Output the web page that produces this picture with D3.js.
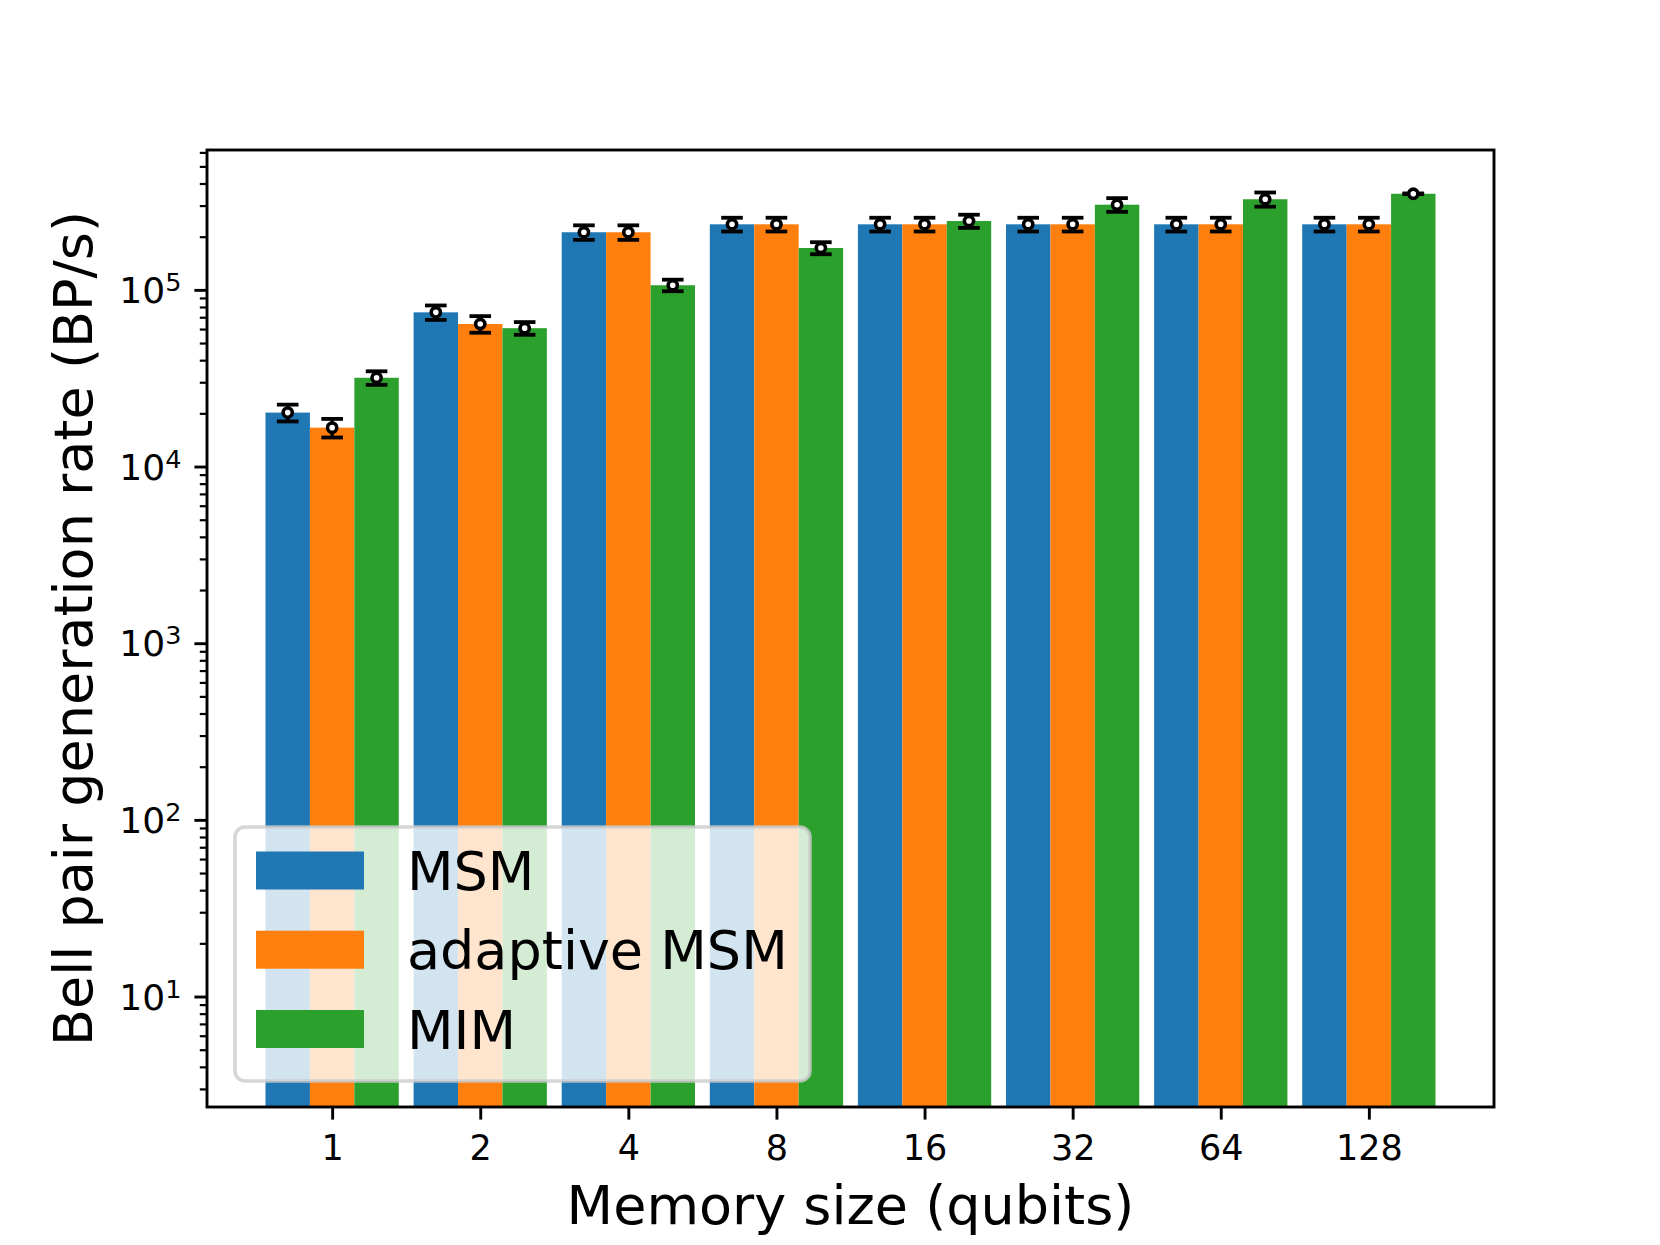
<!DOCTYPE html>
<html>
<head>
<meta charset="utf-8">
<script src="https://cdn.jsdelivr.net/npm/d3@7"></script>
<style>
  html, body { margin: 0; padding: 0; background: #fff; }
  svg { display: block; font-family: "DejaVu Sans", sans-serif; }
</style>
</head>
<body>
<svg id="chart" width="1660" height="1245"></svg>
<script>
// ---- data ----
const sizes = ["1", "2", "4", "8", "16", "32", "64", "128"];
const seriesNames = ["MSM", "adaptive MSM", "MIM"];
const msm = [20200, 74600, 211900, 235000, 235000, 235000, 235000, 235000];
const msmErr = [2200, 7000, 20000, 21000, 21000, 21000, 21000, 21000];
const adaptiveMsm = [16600, 64100, 211900, 235000, 235000, 235000, 235000, 235000];
const adaptiveMsmErr = [2000, 6900, 20000, 21000, 21000, 21000, 21000, 21000];
const mim = [31800, 60700, 106200, 172600, 245300, 303500, 325800, 350000];
const mimErr = [2800, 5000, 8000, 13500, 21000, 27000, 30000, 1500];
const yMajorTicks = [10, 100, 1000, 10000, 100000];
const yTickExponents = ["1", "2", "3", "4", "5"];
const colors = ["#1f77b4", "#ff7f0e", "#2ca02c"];

const series = [
  { name: seriesNames[0], values: msm, errs: msmErr, color: colors[0] },
  { name: seriesNames[1], values: adaptiveMsm, errs: adaptiveMsmErr, color: colors[1] },
  { name: seriesNames[2], values: mim, errs: mimErr, color: colors[2] }
];

// ---- layout ----
const L = 207, R = 1494, T = 150, B = 1107;
const s = 3.6; // px per pt
const svg = d3.select("#chart");

const x = d3.scaleLinear().domain([-0.845, 7.845]).range([L, R]);
const y = d3.scaleLog().domain([2.37, 6.19e5]).range([B, T]).clamp(true);
const barW = 0.3;

svg.append("defs").append("clipPath").attr("id", "plotclip")
  .append("rect").attr("x", L).attr("y", T).attr("width", R - L).attr("height", B - T);

const plot = svg.append("g").attr("clip-path", "url(#plotclip)");

// bars
series.forEach((sr, si) => {
  const off = (si - 1) * barW;
  plot.selectAll(null).data(sr.values).enter().append("rect")
    .attr("x", (d, i) => x(i + off - barW / 2))
    .attr("width", (d, i) => x(i + off + barW / 2) - x(i + off - barW / 2))
    .attr("y", d => y(d))
    .attr("height", d => B - y(d))
    .attr("fill", sr.color);
});

// error bars
const capHalf = 3 * s;
series.forEach((sr, si) => {
  const off = (si - 1) * barW;
  const g = plot.append("g");
  sr.values.forEach((v, i) => {
    const cx = x(i + off);
    const yt = y(v + sr.errs[i]);
    const yb = y(v - sr.errs[i]);
    g.append("line").attr("x1", cx).attr("x2", cx).attr("y1", yt).attr("y2", yb)
      .attr("stroke", "#000").attr("stroke-width", 3.4);
    [yt, yb].forEach(yy => {
      g.append("line").attr("x1", cx - capHalf).attr("x2", cx + capHalf)
        .attr("y1", yy).attr("y2", yy)
        .attr("stroke", "#000").attr("stroke-width", 3.8);
    });
    g.append("circle").attr("cx", cx).attr("cy", y(v)).attr("r", 4.6)
      .attr("fill", "#fff").attr("stroke", "#000").attr("stroke-width", 3.6);
  });
});

// ---- axes ----
const xAxis = d3.axisBottom(x)
  .tickValues(d3.range(sizes.length))
  .tickFormat(i => sizes[i])
  .tickSize(3.5 * s).tickPadding(3.5 * s);
const gx = svg.append("g").attr("transform", `translate(0,${B})`).call(xAxis);
gx.select(".domain").remove();
gx.selectAll(".tick line").attr("stroke", "#000").attr("stroke-width", 2.9);
gx.selectAll(".tick text").attr("font-size", 35).attr("fill", "#000")
  .attr("font-family", "DejaVu Sans").attr("dy", "0.71em").attr("y", 3.5 * s + 16);

// y major ticks
const yAxisMajor = d3.axisLeft(y).tickValues(yMajorTicks).tickFormat("").tickSize(3.5 * s);
const gy = svg.append("g").attr("transform", `translate(${L},0)`).call(yAxisMajor);
gy.select(".domain").remove();
gy.selectAll(".tick line").attr("stroke", "#000").attr("stroke-width", 2.9);
gy.selectAll(".tick text").remove();

// y minor ticks
const minorVals = [];
for (let e = 0; e <= 5; e++) {
  for (let m = 2; m <= 9; m++) {
    const v = m * Math.pow(10, e);
    if (v >= y.domain()[0] && v <= y.domain()[1]) minorVals.push(v);
  }
}
const yAxisMinor = d3.axisLeft(y).tickValues(minorVals).tickFormat("").tickSize(2 * s);
const gym = svg.append("g").attr("transform", `translate(${L},0)`).call(yAxisMinor);
gym.select(".domain").remove();
gym.selectAll(".tick line").attr("stroke", "#000").attr("stroke-width", 2.2);
gym.selectAll(".tick text").remove();

// y tick labels with superscripts
yMajorTicks.forEach((v, i) => {
  const t = svg.append("text")
    .attr("x", L - 3.5 * s - 13).attr("y", y(v) + 13)
    .attr("text-anchor", "end").attr("font-size", 36).attr("fill", "#000");
  t.append("tspan").text("10");
  t.append("tspan").attr("font-size", 25.5).attr("dy", -12).text(yTickExponents[i]);
});

// frame (spines)
svg.append("rect").attr("x", L).attr("y", T).attr("width", R - L).attr("height", B - T)
  .attr("fill", "none").attr("stroke", "#000").attr("stroke-width", 2.9);

// axis labels
svg.append("text").attr("x", (L + R) / 2).attr("y", 1224)
  .attr("text-anchor", "middle").attr("font-size", 54).attr("fill", "#000")
  .text("Memory size (qubits)");
svg.append("text").attr("transform", `translate(92,${(T + B) / 2}) rotate(-90)`)
  .attr("text-anchor", "middle").attr("font-size", 54).attr("fill", "#000")
  .text("Bell pair generation rate (BP/s)");

// ---- legend ----
const lg = svg.append("g");
lg.append("rect").attr("x", 235).attr("y", 827).attr("width", 575).attr("height", 254)
  .attr("rx", 10).attr("ry", 10)
  .attr("fill", "#fff").attr("fill-opacity", 0.8)
  .attr("stroke", "#cccccc").attr("stroke-opacity", 0.8).attr("stroke-width", 3.6);
const rowY = [870.5, 949.7, 1029];
series.forEach((sr, i) => {
  lg.append("rect").attr("x", 256).attr("y", rowY[i] - 19).attr("width", 108).attr("height", 38)
    .attr("fill", sr.color);
  lg.append("text").attr("x", 407).attr("y", rowY[i] + 19.5)
    .attr("font-size", 54).attr("fill", "#000").text(sr.name);
});
</script>
</body>
</html>
